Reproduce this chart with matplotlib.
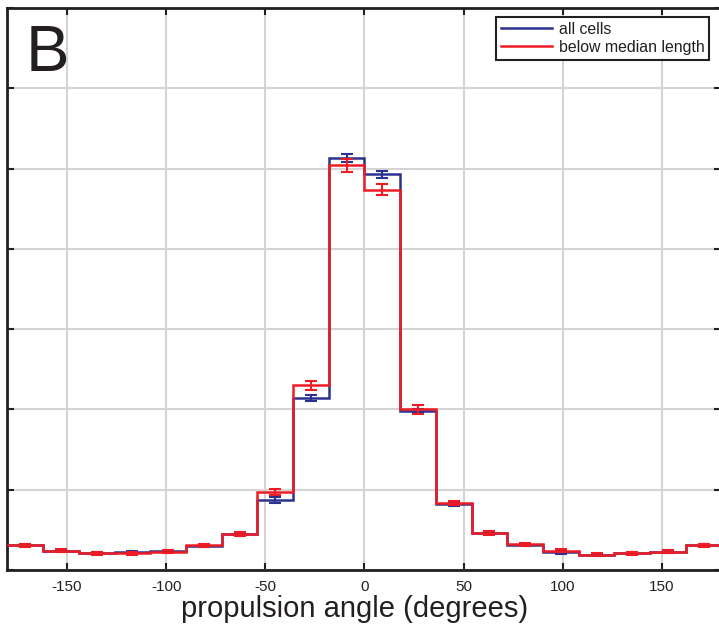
import numpy as np
import matplotlib
matplotlib.use("Agg")
import matplotlib.pyplot as plt

plt.rcParams['font.family'] = ['Liberation Sans', 'DejaVu Sans']

# bin edges (degrees) - 20 bins of 18 degrees
edges = list(range(-180, 181, 18))
centers = [e + 9 for e in edges[:-1]]

all_cells = [0.31, 0.24, 0.21, 0.22, 0.24, 0.30, 0.45, 0.87, 2.14, 5.13,
             4.93, 1.98, 0.82, 0.46, 0.31, 0.22, 0.19, 0.21, 0.23, 0.31]
all_err = [0.015, 0.015, 0.015, 0.015, 0.015, 0.015, 0.015, 0.04, 0.04, 0.048,
           0.046, 0.03, 0.02, 0.015, 0.015, 0.015, 0.015, 0.015, 0.015, 0.015]

below_median = [0.31, 0.24, 0.21, 0.21, 0.23, 0.31, 0.45, 0.97, 2.30, 5.04,
                4.74, 2.00, 0.83, 0.46, 0.32, 0.24, 0.19, 0.21, 0.23, 0.31]
below_err = [0.02, 0.02, 0.02, 0.02, 0.02, 0.02, 0.02, 0.035, 0.052, 0.078,
             0.072, 0.06, 0.025, 0.02, 0.02, 0.02, 0.02, 0.02, 0.02, 0.02]

xticks = [-150, -100, -50, 0, 50, 100, 150]
yticks = [0, 1, 2, 3, 4, 5, 6, 7]

blue = '#2b3190'
red = '#ed1c24'

fig = plt.figure(figsize=(7.19, 6.24), dpi=100)
ax = fig.add_axes([0.0104, 0.0865, 0.993, 0.9005])

ax.stairs(all_cells, edges, baseline=None, color=blue, linewidth=1.8, zorder=3)
ax.errorbar(centers, all_cells, yerr=all_err, fmt='none', ecolor=blue,
            elinewidth=1.5, capsize=4.5, capthick=1.5, zorder=3)
ax.stairs(below_median, edges, baseline=None, color=red, linewidth=1.8, zorder=4)
ax.errorbar(centers, below_median, yerr=below_err, fmt='none', ecolor=red,
            elinewidth=1.5, capsize=4.5, capthick=1.5, zorder=4)

# legend proxies
ax.plot([], [], color=blue, linewidth=1.8, label='all cells')
ax.plot([], [], color=red, linewidth=1.8, label='below median length')

ax.set_xlim(-180, 180)
ax.set_ylim(0, 7)
ax.set_xticks(xticks)
ax.set_xticklabels([str(t) for t in xticks], fontsize=11)
ax.set_yticks(yticks)
ax.set_yticklabels([])
ax.tick_params(direction='in', length=5, width=1.5, top=True, right=True,
               colors='#231f20', labelcolor='#231f20', pad=7)
ax.grid(True, color='#d4d4d4', linewidth=1.5, zorder=0)
ax.set_axisbelow(True)
for s in ax.spines.values():
    s.set_linewidth(2)
    s.set_color('#231f20')
ax.spines['right'].set_visible(False)

ax.set_xlabel('propulsion angle (degrees)', fontsize=21, color='#231f20')
ax.xaxis.label.set_va('baseline')
ax.xaxis.set_label_coords(0.4856, -0.0831)

ax.text(0.026, 0.888, 'B', transform=ax.transAxes, fontsize=47, color='#231f20',
        ha='left', va='baseline')

leg = ax.legend(loc='upper right', bbox_to_anchor=(0.9875, 0.99), fontsize=11.4,
                frameon=True, fancybox=False, framealpha=1, edgecolor='#231f20',
                handlelength=3.2, handletextpad=0.45, borderpad=0.3, labelspacing=0.2,
                borderaxespad=0.2)
leg.get_frame().set_linewidth(1.5)
for t in leg.get_texts():
    t.set_color('#231f20')

fig.savefig('out.png', dpi=100)
